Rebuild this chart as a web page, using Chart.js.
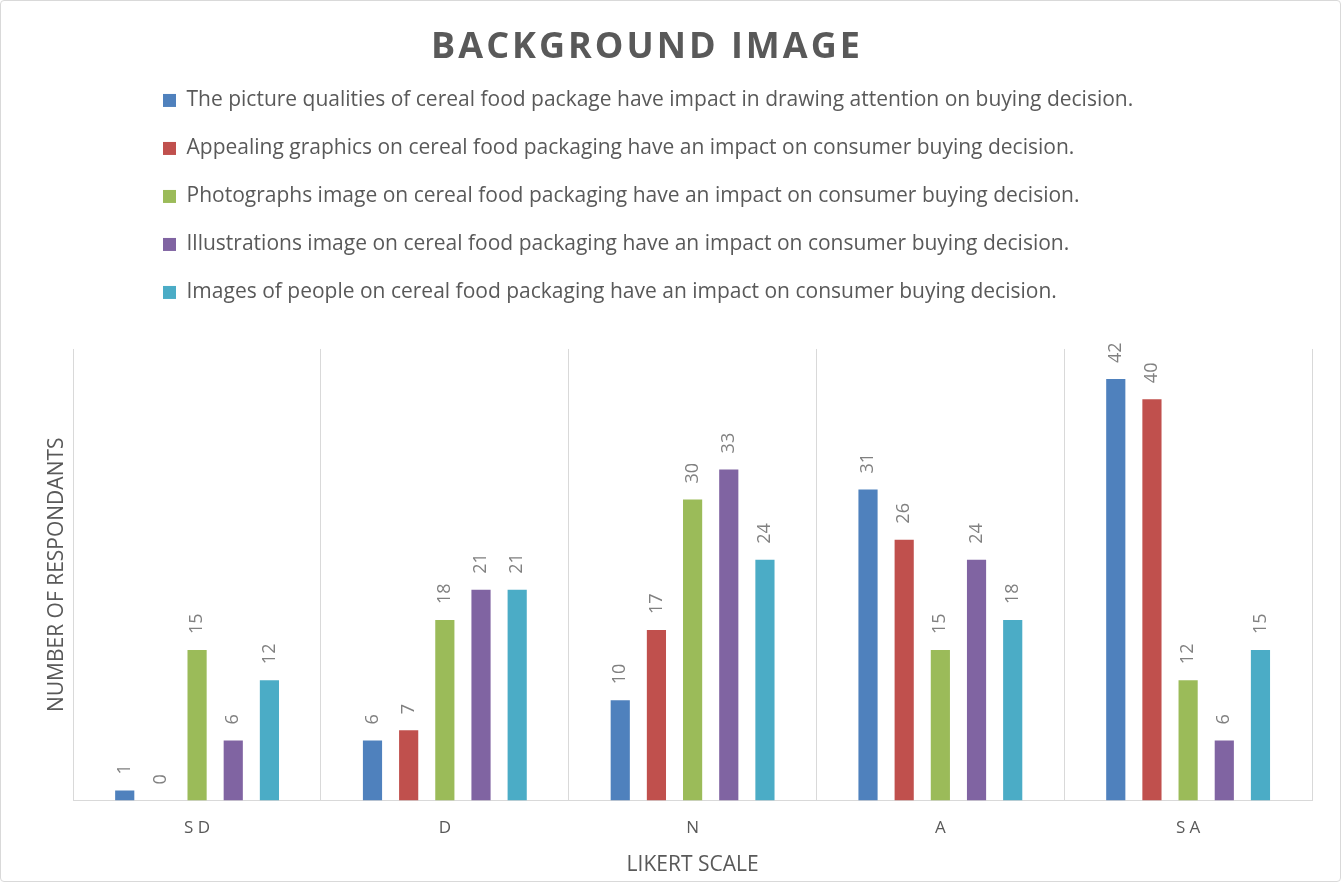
<!DOCTYPE html>
<html lang="en">
<head>
    <meta charset="UTF-8">
    <title>Background Image</title>
    <script src="https://cdn.jsdelivr.net/npm/chart.js@4.4.1/dist/chart.umd.min.js"></script>
    <style>
        body { margin: 0; background: #fff; }
        .chart-container {
            position: relative;
            width: 1339px;
            height: 880px;
            border: 1px solid #d9d9d9;
            border-radius: 4px;
        }
    </style>
</head>
<body>

    <!--chart canvas start-->
    <div class="chart-container">
        <canvas id="chart"></canvas>
    </div>
    <!--chart canvas end-->

    <script>
    // likert categories
    const categories = ['S D', 'D', 'N', 'A', 'S A'];

    const seriesNames = [
        'The picture qualities of cereal food package have impact in drawing attention on buying decision.',
        'Appealing graphics on cereal food packaging have an impact on consumer buying decision.',
        'Photographs image on cereal food packaging have an impact on consumer buying decision.',
        'Illustrations image on cereal food packaging have an impact on consumer buying decision.',
        'Images of people on cereal food packaging have an impact on consumer buying decision.'
    ];

    // respondents per category
    const pictureQualities = [1, 6, 10, 31, 42];
    const appealingGraphics = [0, 7, 17, 26, 40];
    const photographsImage = [15, 18, 30, 15, 12];
    const illustrationsImage = [6, 21, 33, 24, 6];
    const peopleImages = [12, 21, 24, 18, 15];

    const seriesColors = ['#4f81bd', '#c0504d', '#9bbb59', '#8064a2', '#4bacc6'];

    Chart.defaults.font.family = "'Open Sans', sans-serif";

    // rotated value labels above every bar
    const barLabels = {
        id: 'barLabels',
        afterDatasetsDraw(chart) {
            const ctx = chart.ctx;
            ctx.save();
            ctx.fillStyle = '#808080';
            ctx.font = "18px 'Open Sans'";
            ctx.textAlign = 'left';
            ctx.textBaseline = 'middle';
            chart.data.datasets.forEach((ds, i) => {
                chart.getDatasetMeta(i).data.forEach((bar, j) => {
                    ctx.save();
                    ctx.translate(bar.x, bar.y - 16);
                    ctx.rotate(-Math.PI / 2);
                    ctx.fillText(ds.data[j], 0, 0);
                    ctx.restore();
                });
            });
            ctx.restore();
        }
    };

    // spaced-out title, extra gap under the legend, legend rows start further right
    const layoutTweak = {
        id: 'layoutTweak',
        beforeInit(chart) {
            const fit = chart.legend.fit;
            chart.legend.fit = function () {
                fit.call(this);
                this.height += 36;
            };
            const draw = chart.titleBlock.draw;
            chart.titleBlock.draw = function () {
                this.ctx.save();
                this.ctx.letterSpacing = '3px';
                draw.call(this);
                this.ctx.restore();
            };
        },
        afterLayout(chart) {
            chart.legend.left = 135;
            chart.titleBlock.right = chart.titleBlock.left + chart.titleBlock.width - 58;
        }
    };

    const datasets = [pictureQualities, appealingGraphics, photographsImage, illustrationsImage, peopleImages]
        .map((values, i) => ({
            label: seriesNames[i],
            data: values,
            backgroundColor: seriesColors[i],
            borderWidth: 0,
            barPercentage: 0.53,
            categoryPercentage: 0.73
        }));

    const ctx = document.getElementById('chart').getContext('2d');

    const myChart = new Chart(ctx, {
        type: 'bar',
        data: {
            labels: categories,
            datasets: datasets
        },
        plugins: [barLabels, layoutTweak],
        options: {
            responsive: true,
            maintainAspectRatio: false,
            animation: false,
            layout: {
                padding: { left: 39, right: 28, top: 10, bottom: 5 }
            },
            plugins: {
                title: {
                    display: true,
                    text: 'BACKGROUND IMAGE',
                    color: '#595959',
                    font: { size: 36, weight: 'bold', lineHeight: 0.86 },
                    padding: { top: 21, bottom: 0 }
                },
                legend: {
                    position: 'top',
                    align: 'start',
                    labels: {
                        boxWidth: 13,
                        boxHeight: 13,
                        padding: 27,
                        color: '#595959',
                        font: { size: 21 }
                    }
                },
                tooltip: { enabled: false }
            },
            scales: {
                x: {
                    grid: { color: '#d9d9d9', offset: true, drawTicks: false },
                    border: { color: '#d9d9d9' },
                    ticks: { color: '#595959', font: { size: 17 }, padding: 17 },
                    title: {
                        display: true,
                        text: 'LIKERT SCALE',
                        color: '#595959',
                        font: { size: 21, lineHeight: 1 },
                        padding: { top: 0, bottom: 0 }
                    }
                },
                y: {
                    min: 0,
                    max: 45,
                    ticks: { display: false },
                    grid: { display: false, drawTicks: false },
                    border: { display: false },
                    title: {
                        display: true,
                        text: 'NUMBER OF RESPONDANTS',
                        color: '#595959',
                        font: { size: 21 }
                    }
                }
            }
        }
    });
    </script>

</body>
</html>
